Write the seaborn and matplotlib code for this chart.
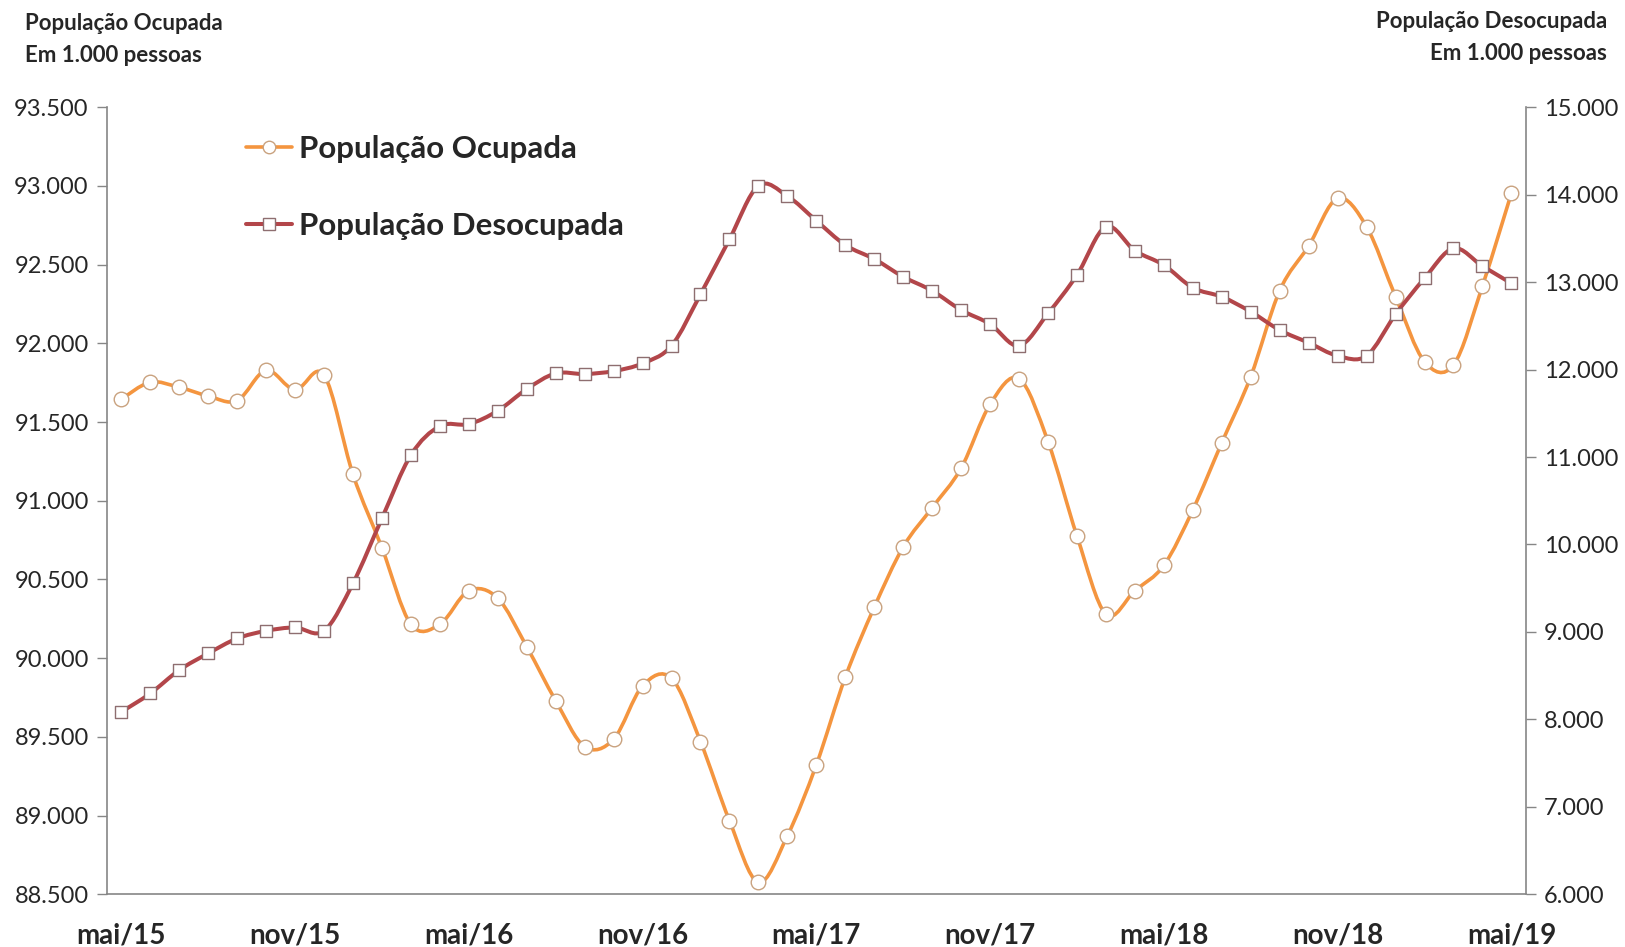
import numpy as np
import pandas as pd
import seaborn as sns
import matplotlib.pyplot as plt
from matplotlib.path import Path
from matplotlib.patches import PathPatch
from matplotlib.lines import Line2D
from matplotlib.ticker import FixedLocator, FuncFormatter

# monthly series, mai/15 .. mai/19 (1.000 pessoas)
meses = ['mai/15', 'jun/15', 'jul/15', 'ago/15', 'set/15', 'out/15', 'nov/15', 'dez/15',
         'jan/16', 'fev/16', 'mar/16', 'abr/16', 'mai/16', 'jun/16', 'jul/16', 'ago/16',
         'set/16', 'out/16', 'nov/16', 'dez/16', 'jan/17', 'fev/17', 'mar/17', 'abr/17',
         'mai/17', 'jun/17', 'jul/17', 'ago/17', 'set/17', 'out/17', 'nov/17', 'dez/17',
         'jan/18', 'fev/18', 'mar/18', 'abr/18', 'mai/18', 'jun/18', 'jul/18', 'ago/18',
         'set/18', 'out/18', 'nov/18', 'dez/18', 'jan/19', 'fev/19', 'mar/19', 'abr/19',
         'mai/19']

ocupada = [91645, 91753, 91721, 91666, 91636, 91829, 91704, 91799, 91168, 90702,
           90215, 90215, 90429, 90381, 90073, 89730, 89438, 89485, 89824, 89872,
           89470, 88968, 88576, 88871, 89322, 89879, 90323, 90707, 90956, 91207,
           91613, 91776, 91376, 90776, 90279, 90429, 90590, 90942, 91369, 91789,
           92335, 92619, 92922, 92741, 92297, 91884, 91863, 92365, 92954]

desocupada = [8085, 8296, 8563, 8754, 8925, 9012, 9051, 9012, 9555, 10298,
              11022, 11354, 11377, 11529, 11777, 11957, 11949, 11983, 12071, 12273,
              12861, 13490, 14103, 13985, 13703, 13425, 13265, 13062, 12902, 12681,
              12521, 12273, 12643, 13082, 13634, 13360, 13196, 12936, 12833, 12662,
              12452, 12307, 12158, 12158, 12632, 13044, 13387, 13184, 12987]

rotulos_x = ['mai/15', 'nov/15', 'mai/16', 'nov/16', 'mai/17', 'nov/17', 'mai/18', 'nov/18', 'mai/19']

cor_ocup = '#F4953F'
cor_desoc = '#B3464A'

df = pd.DataFrame({'mes': meses, 'pos': range(len(meses)),
                   'ocupada': ocupada, 'desocupada': desocupada})

sns.set_style('white')
plt.rcParams['font.family'] = ['Lato', 'DejaVu Sans']


def smooth_path(x, y):
    # excel-like smoothed line: catmull-rom segments as cubic beziers
    x = np.asarray(x, float)
    y = np.asarray(y, float)
    verts = [(x[0], y[0])]
    codes = [Path.MOVETO]
    n = len(x)
    for i in range(n - 1):
        p0 = (x[max(i - 1, 0)], y[max(i - 1, 0)])
        p1 = (x[i], y[i])
        p2 = (x[i + 1], y[i + 1])
        p3 = (x[min(i + 2, n - 1)], y[min(i + 2, n - 1)])
        c1 = (p1[0] + (p2[0] - p0[0]) / 6, p1[1] + (p2[1] - p0[1]) / 6)
        c2 = (p2[0] - (p3[0] - p1[0]) / 6, p2[1] - (p3[1] - p1[1]) / 6)
        verts += [c1, c2, p2]
        codes += [Path.CURVE4] * 3
    return Path(verts, codes)


fig = plt.figure(figsize=(16.25, 9.47), dpi=100)
ax = fig.add_axes([0.0657, 0.0557, 0.8733, 0.831])
ax2 = ax.twinx()

# Ocupada (left axis)
ax.add_patch(PathPatch(smooth_path(df['pos'], df['ocupada']), fill=False,
                       edgecolor=cor_ocup, lw=2.6, zorder=2))
sns.scatterplot(data=df, x='pos', y='ocupada', ax=ax, marker='o', s=110,
                color='white', edgecolor='#C9A27F', linewidth=1.0, zorder=3)

# Desocupada (right axis)
ax2.add_patch(PathPatch(smooth_path(df['pos'], df['desocupada']), fill=False,
                        edgecolor=cor_desoc, lw=2.9, zorder=2))
sns.scatterplot(data=df, x='pos', y='desocupada', ax=ax2, marker='s', s=85,
                color='white', edgecolor='#8E6E70', linewidth=1.0, zorder=3)

fmt = FuncFormatter(lambda v, p: f'{v:,.0f}'.replace(',', '.'))

ax.set_xlim(-0.5, len(meses) - 0.5)
ax.set_ylim(88500, 93500)
ax.yaxis.set_major_locator(FixedLocator(np.arange(88500, 93501, 500)))
ax.yaxis.set_major_formatter(fmt)
ax2.set_ylim(6000, 15000)
ax2.yaxis.set_major_locator(FixedLocator(np.arange(6000, 15001, 1000)))
ax2.yaxis.set_major_formatter(fmt)

# category axis: labels centred on months, ticks on boundaries
pos_rot = [meses.index(m) for m in rotulos_x]
ax.set_xticks(pos_rot)
ax.set_xticklabels(rotulos_x, fontsize=20, fontweight='bold')
ax.set_xticks(np.arange(-0.5, len(meses), 6), minor=True)
ax.tick_params(axis='x', which='major', length=0, pad=20)
ax.tick_params(axis='x', which='minor', length=10, width=1, color='#868686', direction='out')
ax.tick_params(axis='y', length=7, width=1, color='#868686', labelsize=17, pad=6, direction='out')
ax2.tick_params(axis='y', length=7, width=1, color='#868686', labelsize=17, pad=6, direction='out')
ax.set_xlabel('')
ax.set_ylabel('')
ax2.set_ylabel('')

for s in ['top', 'right']:
    ax.spines[s].set_visible(False)
for s in ['top', 'left', 'bottom']:
    ax2.spines[s].set_visible(False)
for sp in [ax.spines['left'], ax.spines['bottom'], ax2.spines['right']]:
    sp.set_color('#868686')
    sp.set_linewidth(1.2)

handles = [Line2D([], [], color=cor_ocup, lw=2.6, marker='o', markersize=9,
                  markerfacecolor='white', markeredgecolor='#C9A27F'),
           Line2D([], [], color=cor_desoc, lw=2.9, marker='s', markersize=8,
                  markerfacecolor='white', markeredgecolor='#8E6E70')]
leg = ax2.legend(handles, ['População Ocupada', 'População Desocupada'],
                 loc='upper left', bbox_to_anchor=(0.078, 1.0), frameon=False,
                 prop={'size': 22.5, 'weight': 'bold'}, handlelength=1.5,
                 handletextpad=0.2, labelspacing=1.55)

fig.text(25 / 1625, 1 - 23 / 947, 'População Ocupada', fontsize=16, fontweight='bold', va='center')
fig.text(25 / 1625, 1 - 55 / 947, 'Em 1.000 pessoas', fontsize=16, fontweight='bold', va='center')
fig.text(1607 / 1625, 1 - 21 / 947, 'População Desocupada', fontsize=16, fontweight='bold',
         va='center', ha='right')
fig.text(1607 / 1625, 1 - 53 / 947, 'Em 1.000 pessoas', fontsize=16, fontweight='bold',
         va='center', ha='right')

plt.savefig('out.png', dpi=100)
